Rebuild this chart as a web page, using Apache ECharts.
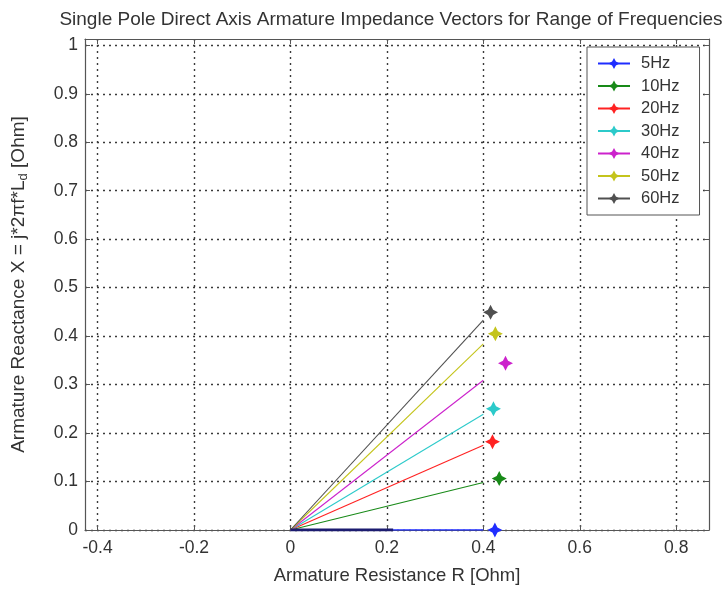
<!DOCTYPE html>
<html>
<head>
<meta charset="utf-8">
<script src="https://cdn.jsdelivr.net/npm/echarts@6/dist/echarts.min.js"></script>
<style>
  html, body { margin: 0; padding: 0; background: #fff; }
  #chart { width: 725px; height: 590px; }
</style>
</head>
<body>
<div id="chart"></div>
<script>
// Impedance vectors: shaft from the origin, arrow tip marker beyond it
const freqNames = ['5Hz', '10Hz', '20Hz', '30Hz', '40Hz', '50Hz', '60Hz'];
const shaftR = [0.400, 0.400, 0.400, 0.400, 0.400, 0.400, 0.400];
const shaftX = [0.000, 0.098, 0.175, 0.239, 0.309, 0.384, 0.433];
const tipR   = [0.424, 0.433, 0.419, 0.421, 0.446, 0.425, 0.415];
const tipX   = [0.000, 0.106, 0.182, 0.250, 0.344, 0.405, 0.449];
const colors = ['#1f2dff', '#188a18', '#ff2222', '#2ccaca', '#cc22cc', '#c4c41c', '#505050'];

// dark overlay on the real axis near the origin
const baseR = [0, 0.213];
const baseX = [0, 0];

const xTicks = [-0.4, -0.2, 0, 0.2, 0.4, 0.6, 0.8];
const yTicks = [0, 0.1, 0.2, 0.3, 0.4, 0.5, 0.6, 0.7, 0.8, 0.9, 1];

const font = "'Liberation Sans', Arial, sans-serif";
const starPath = 'path://M0,-10 L3.4,-3.4 L10,0 L3.4,3.4 L0,10 L-3.4,3.4 L-10,0 L-3.4,-3.4 Z';
const gridLine = { show: true, lineStyle: { color: '#3a3a3a', type: [2, 4], width: 1.4 } };

const series = freqNames.map((name, i) => ({
  name: name,
  type: 'line',
  symbol: starPath,
  symbolSize: 15,
  showSymbol: true,
  connectNulls: false,
  color: colors[i],
  lineStyle: { color: colors[i], width: i === 0 ? 1.6 : 1.1 },
  itemStyle: { color: colors[i] },
  z: 3 + i,
  data: [
    { value: [0, 0], symbol: 'none' },
    { value: [shaftR[i], shaftX[i]], symbol: 'none' },
    '-',
    { value: [tipR[i], tipX[i]] }
  ]
}));

series.push({
  name: 'base',
  type: 'line',
  symbol: 'none',
  color: '#1c1c70',
  lineStyle: { color: '#1c1c70', width: 3 },
  z: 10,
  data: baseR.map((r, k) => [r, baseX[k]])
});

const chart = echarts.init(document.getElementById('chart'), null, { renderer: 'canvas' });
chart.setOption({
  animation: false,
  backgroundColor: '#ffffff',
  textStyle: { fontFamily: font },
  title: {
    text: 'Single Pole Direct Axis Armature Impedance Vectors for Range of Frequencies',
    left: 386,
    textAlign: 'center',
    top: 5,
    textStyle: { fontFamily: font, fontSize: 19, fontWeight: 'normal', color: '#333' }
  },
  legend: {
    data: freqNames,
    orient: 'vertical',
    left: 587,
    top: 47,
    padding: [8, 20, 8, 10],
    itemWidth: 32,
    itemHeight: 14,
    itemGap: 5.5,
    backgroundColor: '#ffffff',
    borderColor: '#555',
    borderWidth: 1,
    borderRadius: 0,
    textStyle: { fontFamily: font, fontSize: 16.5, color: '#333', padding: [0, 0, 0, 6] }
  },
  grid: { left: 85, right: 16, top: 39, bottom: 58, containLabel: false },
  xAxis: [
    {
      type: 'value', position: 'bottom', min: -0.426, max: 0.868,
      axisLine: { show: true, onZero: false, lineStyle: { color: '#555', width: 1.2 } },
      axisTick: { show: true, inside: true, length: 5, customValues: xTicks, lineStyle: { color: '#555' } },
      axisLabel: { customValues: xTicks, margin: 9, fontSize: 17.5, color: '#333', fontFamily: font,
                   formatter: v => String(+v.toFixed(1)) },
      splitLine: gridLine,
      name: 'Armature Resistance R [Ohm]', nameLocation: 'middle', nameGap: 36,
      nameTextStyle: { fontSize: 18.5, color: '#333', fontFamily: font }
    },
    {
      type: 'value', position: 'top', min: -0.426, max: 0.868,
      axisLine: { show: true, onZero: false, lineStyle: { color: '#555', width: 1.2 } },
      axisTick: { show: true, inside: true, length: 5, customValues: xTicks, lineStyle: { color: '#555' } },
      axisLabel: { show: false },
      splitLine: { show: false }
    }
  ],
  yAxis: [
    {
      type: 'value', position: 'left', min: 0, max: 1.013,
      axisLine: { show: true, onZero: false, lineStyle: { color: '#555', width: 1.2 } },
      axisTick: { show: true, inside: true, length: 5, customValues: yTicks, lineStyle: { color: '#555' } },
      axisLabel: { customValues: yTicks, margin: 7, fontSize: 17.5, color: '#333', fontFamily: font,
                   formatter: v => String(+v.toFixed(1)) },
      splitLine: gridLine,
      name: 'Armature Reactance X = j*2πf*L{sub|d} [Ohm]', nameLocation: 'middle', nameGap: 55,
      nameTextStyle: { fontSize: 19, color: '#333', fontFamily: font,
                       rich: { sub: { fontSize: 13, color: '#333', fontFamily: font, padding: [9, 0, 0, 0] } } }
    },
    {
      type: 'value', position: 'right', min: 0, max: 1.013,
      axisLine: { show: true, onZero: false, lineStyle: { color: '#555', width: 1.2 } },
      axisTick: { show: true, inside: true, length: 5, customValues: yTicks, lineStyle: { color: '#555' } },
      axisLabel: { show: false },
      splitLine: { show: false }
    }
  ],
  series: series
});
</script>
</body>
</html>
